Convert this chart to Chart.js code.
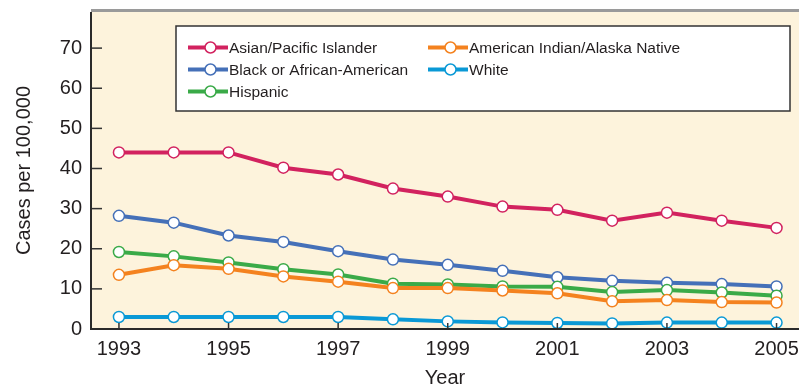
<!DOCTYPE html>
<html><head><meta charset="utf-8">
<script src="https://cdn.jsdelivr.net/npm/chart.js@4"></script>
<style>html,body{margin:0;padding:0;background:#fff;}#wrap{width:799px;height:386px;}</style>
</head><body><div id="wrap"><canvas id="c" width="799" height="386"></canvas></div>
<script>
const years = [1993,1994,1995,1996,1997,1998,1999,2000,2001,2002,2003,2004,2005];
const xTickLabels = [1993,1995,1997,1999,2001,2003,2005];
const yTickLabels = [0,10,20,30,40,50,60,70];
const seriesNames = ['Asian/Pacific Islander','Black or African-American','Hispanic','American Indian/Alaska Native','White'];
const asianPI = [44,44,44,40.2,38.5,35,33,30.5,29.7,27,29,27,25.2];
const black   = [28.2,26.5,23.3,21.7,19.4,17.3,16,14.5,12.9,12,11.5,11.2,10.6];
const hispanic= [19.2,18.1,16.6,14.9,13.6,11.3,11.1,10.6,10.5,9.2,9.7,9.1,8.3];
const aian    = [13.5,15.9,15,13.1,11.8,10.2,10.2,9.6,8.9,6.9,7.2,6.7,6.6];
const white   = [3,3,3,3,3,2.4,1.9,1.65,1.5,1.4,1.6,1.6,1.6];
const colors = ['#d2225f','#4570b8','#3aaa48','#f4821f','#0a99d6'];
const seriesValues = [asianPI, black, hispanic, aian, white];

const font = "'Liberation Sans', Arial, sans-serif";

const datasets = seriesNames.map((n,i)=>({
  label:n,
  data: years.map((y,j)=>({x:y,y:seriesValues[i][j]})),
  borderColor: colors[i],
  backgroundColor:'#ffffff',
  pointBackgroundColor:'#ffffff',
  pointBorderColor: colors[i],
  pointBorderWidth:1.5,
  pointRadius:5.5,
  borderWidth:4,
  tension:0,
  order: 5-i
}));

const bgPlugin = {
  id:'bg',
  beforeDraw(chart){
    const {ctx, chartArea:a} = chart;
    ctx.save();
    ctx.fillStyle = '#fdf3dc';
    ctx.fillRect(a.left, a.top, a.right-a.left, a.bottom-a.top);
    ctx.restore();
  },
  afterDatasetsDraw(chart){
    const {ctx, chartArea:a, scales} = chart;
    ctx.save();
    ctx.strokeStyle = '#9a9a9a'; ctx.lineWidth = 3;
    ctx.beginPath(); ctx.moveTo(a.left, a.top-1.5); ctx.lineTo(a.right, a.top-1.5); ctx.stroke();
    ctx.strokeStyle = '#333'; ctx.lineWidth = 1.5;
    yTickLabels.forEach(v=>{
      const y = scales.y.getPixelForValue(v);
      if (v===0) return;
      ctx.beginPath(); ctx.moveTo(a.left, y); ctx.lineTo(a.left+11, y); ctx.stroke();
    });
    xTickLabels.forEach(v=>{
      const x = scales.x.getPixelForValue(v);
      ctx.beginPath(); ctx.moveTo(x, a.bottom); ctx.lineTo(x, a.bottom-6); ctx.stroke();
    });
    ctx.strokeStyle = '#2a2a2a'; ctx.lineWidth = 2;
    ctx.beginPath(); ctx.moveTo(a.left, a.top); ctx.lineTo(a.left, a.bottom); ctx.lineTo(a.right, a.bottom); ctx.stroke();
    const bx=176, by=26, bw=614, bh=85;
    ctx.fillStyle='#ffffff'; ctx.fillRect(bx,by,bw,bh);
    ctx.strokeStyle='#333'; ctx.lineWidth=1.5; ctx.strokeRect(bx,by,bw,bh);
    const pos = [[188,47.5],[188,69.5],[188,91.5],[428,47.5],[428,69.5]];
    ctx.font = "15.5px " + font;
    ctx.textBaseline='middle'; ctx.textAlign='left';
    chart.data.datasets.forEach((d,i)=>{
      const [x,y]=pos[i];
      ctx.strokeStyle=d.borderColor; ctx.lineWidth=4;
      ctx.beginPath(); ctx.moveTo(x,y); ctx.lineTo(x+40,y); ctx.stroke();
      ctx.fillStyle='#fff'; ctx.lineWidth=1.5;
      ctx.beginPath(); ctx.arc(x+22.5,y,5.5,0,Math.PI*2); ctx.fill(); ctx.stroke();
      ctx.fillStyle='#231f20';
      ctx.fillText(d.label, x+41, y+1);
    });
    ctx.restore();
  }
};

new Chart(document.getElementById('c'), {
  type:'line',
  data:{datasets},
  options:{
    responsive:false,
    animation:false,
    devicePixelRatio:1,
    layout:{autoPadding:false, padding:{top:12,right:0,left:0,bottom:0}},
    plugins:{legend:{display:false},tooltip:{enabled:false}},
    scales:{
      x:{
        type:'linear', min:1992.49, max:2005.41,
        afterFit(s){ s.height = 57; s.paddingLeft = 0; s.paddingRight = 0; s.paddingTop = 0; s.paddingBottom = 0; },
        afterBuildTicks(s){ s.ticks = xTickLabels.map(v=>({value:v})); },
        grid:{display:false, drawTicks:false},
        border:{display:false},
        ticks:{padding:8, color:'#231f20', font:{family:font,size:20}, maxRotation:0, autoSkip:false,
          callback:v=>String(v)},
        title:{display:true, text:'Year', color:'#231f20', font:{family:font,size:20,lineHeight:0.8}, padding:{top:0,bottom:0}}
      },
      y:{
        min:0, max:79,
        afterFit(s){ s.width = 91; s.paddingLeft = 0; s.paddingRight = 0; s.paddingTop = 0; s.paddingBottom = 0; },
        afterBuildTicks(s){ s.ticks = yTickLabels.map(v=>({value:v})); },
        grid:{display:false, drawTicks:false},
        border:{display:false},
        ticks:{padding:9, color:'#231f20', font:{family:font,size:20}, callback:v=>String(v)},
        title:{display:true, text:'Cases per 100,000', color:'#231f20', font:{family:font,size:20,lineHeight:1.2}, padding:{top:12.5,bottom:0}}
      }
    }
  },
  plugins:[bgPlugin]
});
</script></body></html>
